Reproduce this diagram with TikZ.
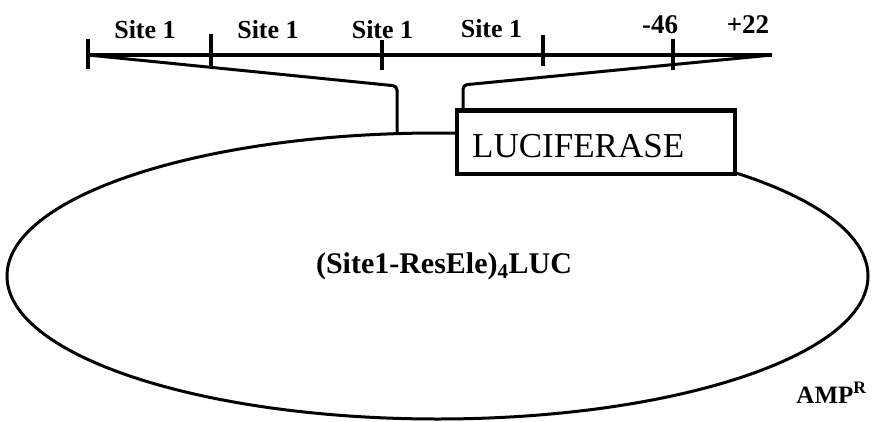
\documentclass[tikz,border=0pt]{standalone}
\usepackage{fontspec}
\setmainfont{Liberation Serif}
\usetikzlibrary{shapes.geometric}
\tikzset{
  ln/.style={line width=3.2pt, black},
  tick/.style={line width=3.2pt, black},
  lbl/.style={font=\bfseries\fontsize{26}{30}\selectfont, inner sep=0pt, anchor=base},
  num/.style={font=\bfseries\fontsize{27}{31}\selectfont, inner sep=0pt, anchor=base},
}
\begin{document}
\begin{tikzpicture}[x=1pt,y=-1pt]
\useasboundingbox (0,0) rectangle (873,421);
% plasmid ellipse
\node[ellipse, draw, line width=3pt, minimum width=861pt, minimum height=286pt, inner sep=0pt, outer sep=0pt] (plasmid) at (437.5,276) {};
% luciferase box
\node[rectangle, draw, line width=4.5pt, fill=white, minimum width=278pt, minimum height=63.5pt, inner sep=0pt, outer sep=0pt] (box) at (596,142.25) {};
\node[font=\fontsize{35}{40}\selectfont, inner sep=0pt, anchor=base west] (luc) at (472,157) {LUCIFERASE};
% top line coordinates
\coordinate (a0) at (88,55);
\coordinate (aend) at (772,55);
\draw[ln] (a0) -- (aend);
% ticks
\coordinate (t0a) at (88,39);  \coordinate (t0b) at (88,69);
\coordinate (t1a) at (211,34); \coordinate (t1b) at (211,66);
\coordinate (t2a) at (382,40); \coordinate (t2b) at (382,70);
\coordinate (t3a) at (543,35); \coordinate (t3b) at (543,66);
\coordinate (t4a) at (673,39); \coordinate (t4b) at (673,70);
\draw[tick] (t0a) -- (t0b);
\draw[tick] (t1a) -- (t1b);
\draw[tick] (t2a) -- (t2b);
\draw[tick] (t3a) -- (t3b);
\draw[tick] (t4a) -- (t4b);
% labels
\node[lbl] (s1) at (145,38) {Site 1};
\node[lbl] (s2) at (268,38) {Site 1};
\node[lbl] (s3) at (382.5,38) {Site 1};
\node[lbl] (s4) at (491.5,37) {Site 1};
\node[num] (m46) at (660,33) {-46};
\node[num] (p22) at (748,33) {+22};
% connectors
\coordinate (lc1) at (397,86);
\coordinate (lc2) at (397,134);
\coordinate (rc1) at (463,85);
\coordinate (rc2) at (463,110.5);
\draw[ln, line width=3pt, rounded corners=4pt] (a0) -- (lc1) -- (lc2);
\draw[ln, line width=3pt, rounded corners=4pt] (aend) -- (rc1) -- (rc2);
% inner labels
\node[font=\bfseries\fontsize{30}{34}\selectfont, inner sep=0pt, anchor=base] (name) at (444,273) {(Site1-ResEle)\textsubscript{4}LUC};
\node[font=\bfseries\fontsize{25}{29}\selectfont, inner sep=0pt, anchor=base] (amp) at (831.5,403) {AMP\textsuperscript{R}};
\end{tikzpicture}
\end{document}
